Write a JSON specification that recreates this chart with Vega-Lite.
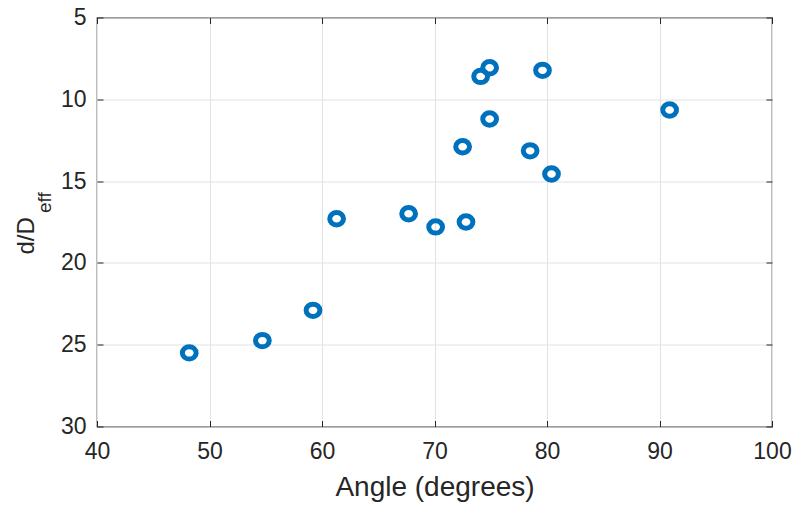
{
  "$schema": "https://vega.github.io/schema/vega-lite/v6.json",
  "width": 675,
  "height": 409,
  "autosize": {"type": "none"},
  "padding": {"left": 97, "top": 17.5, "right": 24, "bottom": 79.5},
  "background": "white",
  "config": {
    "font": "Liberation Sans",
    "view": {"stroke": "#262626", "strokeWidth": 1.2},
    "axis": {
      "labelFont": "Liberation Sans",
      "titleFont": "Liberation Sans",
      "labelColor": "#262626",
      "titleColor": "#262626",
      "titleFontWeight": "normal",
      "tickColor": "#262626",
      "domain": false,
      "gridColor": "#e2e2e2",
      "gridWidth": 1
    }
  },
  "data": {
    "values": [
      {"angle": 48.2, "d": 25.5},
      {"angle": 54.7, "d": 24.75},
      {"angle": 59.2, "d": 22.9},
      {"angle": 61.3, "d": 17.3},
      {"angle": 67.7, "d": 17.0},
      {"angle": 70.1, "d": 17.8},
      {"angle": 72.8, "d": 17.5},
      {"angle": 72.5, "d": 12.9},
      {"angle": 74.1, "d": 8.6},
      {"angle": 74.9, "d": 8.07},
      {"angle": 74.9, "d": 11.2},
      {"angle": 78.5, "d": 13.15},
      {"angle": 79.6, "d": 8.23},
      {"angle": 80.4, "d": 14.57},
      {"angle": 90.9, "d": 10.65}
    ]
  },
  "layer": [
    {
      "mark": {"type": "point", "filled": false, "strokeWidth": 5, "size": 190, "shape": "M-1,0A1,0.9 0 1,0 1,0A1,0.9 0 1,0 -1,0Z", "color": "#0072BD", "opacity": 1},
      "encoding": {
        "x": {
          "field": "angle", "type": "quantitative",
          "scale": {"domain": [40, 100], "nice": false, "zero": false},
          "axis": {
            "orient": "bottom",
            "values": [40, 50, 60, 70, 80, 90, 100],
            "grid": true,
            "tickSize": -6,
            "labelPadding": 20,
            "labelFontSize": 23,
            "labelFlush": false,
            "title": "Angle (degrees)",
            "titleFontSize": 28,
            "titleBaseline": "alphabetic",
            "titleY": 69
          }
        },
        "y": {
          "field": "d", "type": "quantitative",
          "scale": {"domain": [5, 30], "reverse": true, "nice": false, "zero": false},
          "axis": {
            "orient": "left",
            "values": [5, 10, 15, 20, 25, 30],
            "grid": true,
            "tickSize": -6,
            "labelPadding": 17,
            "labelFontSize": 23,
            "labelFlush": false,
            "title": "d/D",
            "titleFontSize": 24,
            "titleAngle": -90,
            "titleAlign": "left",
            "titleBaseline": "alphabetic",
            "titleX": -64,
            "titleY": 236.5
          }
        }
      }
    },
    {
      "mark": {"type": "point", "opacity": 0},
      "encoding": {
        "x": {
          "field": "angle", "type": "quantitative",
          "scale": {"domain": [40, 100], "nice": false, "zero": false},
          "axis": {"orient": "top", "values": [40, 50, 60, 70, 80, 90, 100], "grid": false, "labels": false, "tickSize": -6, "title": null}
        },
        "y": {
          "field": "d", "type": "quantitative",
          "scale": {"domain": [5, 30], "reverse": true, "nice": false, "zero": false},
          "axis": {"orient": "right", "values": [5, 10, 15, 20, 25, 30], "grid": false, "labels": false, "tickSize": -6, "title": null}
        }
      }
    },
    {
      "mark": {"type": "point", "opacity": 0},
      "encoding": {
        "y": {
          "field": "d", "type": "quantitative",
          "scale": {"domain": [5, 30], "reverse": true, "nice": false, "zero": false},
          "axis": {
            "orient": "left", "grid": false, "labels": false, "ticks": false,
            "title": "eff",
            "titleFontSize": 19,
            "titleAngle": -90,
            "titleAlign": "left",
            "titleBaseline": "alphabetic",
            "titleX": -47,
            "titleY": 195
          }
        }
      }
    }
  ],
  "resolve": {"axis": {"x": "independent", "y": "independent"}}
}
